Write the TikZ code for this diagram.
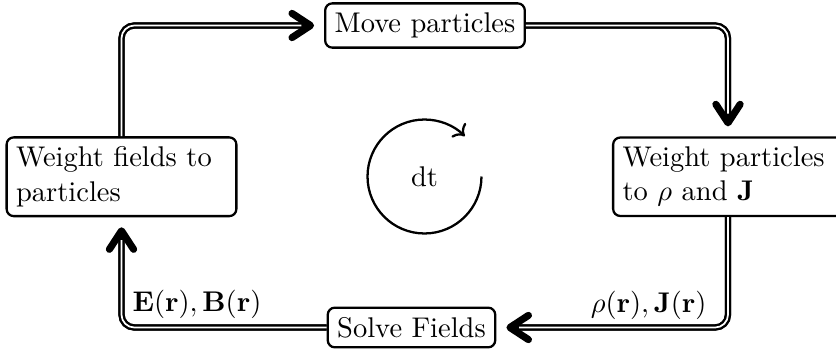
\documentclass[tikz,border=0pt]{standalone}
\usetikzlibrary{arrows.meta}
\begin{document}
\begin{tikzpicture}[x=0.351pt,y=-0.351pt,
  box/.style={draw, thick, rounded corners=2.5pt, inner sep=3.33pt},
  twoline/.style={box, text width=2.6cm, align=left},
  connbase/.style={line width=2.2pt, rounded corners=4.5pt, shorten >=3.5pt,
    -{Straight Barb[length=6.5pt,width=8.5pt,line width=2.5pt,round]}},
  conndbl/.style={double, thick, rounded corners=4.5pt, shorten >=8pt},
  lbl/.style={inner sep=0pt},
]
\useasboundingbox (0,0) rectangle (836,351);
\node[box] (mp) at (425,25.5) {Move particles};
\node[twoline] (wp) at (728,176.75) {Weight particles to $\rho$ and $\mathbf{J}$};
\node[twoline] (wf) at (121.5,176.75) {Weight fields to particles};
\node[box] (sf) at (411.5,327.5) {Solve Fields};
\node (dt) at (424.5,176.5) {dt};
\coordinate (arcstart) at ([xshift=20pt]dt.center);
\draw[thick,->] (arcstart) arc[start angle=0,end angle=-315,radius=20pt];
\draw[connbase] (wf.north) |- (mp.west);
\draw[conndbl] (wf.north) |- (mp.west);
\draw[connbase] (mp.east) -| (wp.north);
\draw[conndbl] (mp.east) -| (wp.north);
\draw[connbase] (wp.south) |- (sf.east);
\draw[conndbl] (wp.south) |- (sf.east);
\draw[connbase] (sf.west) -| (wf.south);
\draw[conndbl] (sf.west) -| (wf.south);
\node[lbl, anchor=base east] (lr) at (707,312) {$\rho(\mathbf{r}),\mathbf{J}(\mathbf{r})$};
\node[lbl, anchor=base west] (le) at (132,311) {$\mathbf{E}(\mathbf{r}),\mathbf{B}(\mathbf{r})$};
\end{tikzpicture}
\end{document}
